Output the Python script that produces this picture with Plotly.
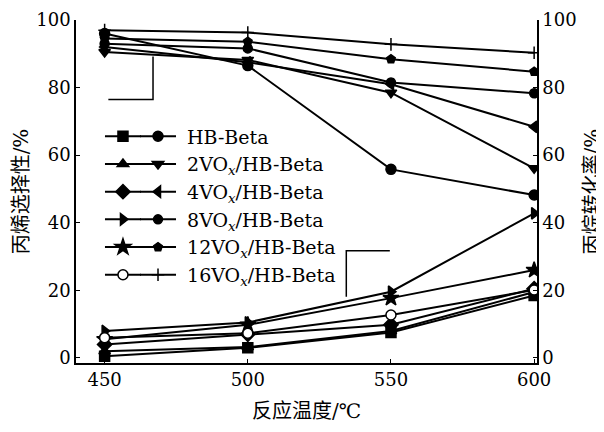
import plotly.graph_objects as go

temps = [450, 500, 550, 600]
names = ["HB-Beta", "2VO<sub><i>x</i></sub>/HB-Beta", "4VO<sub><i>x</i></sub>/HB-Beta",
         "8VO<sub><i>x</i></sub>/HB-Beta", "12VO<sub><i>x</i></sub>/HB-Beta", "16VO<sub><i>x</i></sub>/HB-Beta"]

# propane conversion (right axis)
conv_hb = [0.5, 3.0, 7.5, 18.5]
conv_2v = [2.0, 3.2, 8.0, 19.5]
conv_4v = [4.0, 7.0, 9.8, 20.5]
conv_8v = [8.0, 10.5, 19.6, 42.8]
conv_12v = [5.5, 9.8, 17.7, 26.0]
conv_16v = [6.0, 7.3, 12.7, 20.1]

# propylene selectivity (left axis)
sel_hb = [96.0, 86.5, 55.8, 48.2]
sel_2v = [90.5, 88.2, 78.5, 56.1]
sel_4v = [92.0, 87.5, 81.0, 68.4]
sel_8v = [93.0, 91.6, 81.5, 78.3]
sel_12v = [94.5, 93.6, 88.4, 84.7]
sel_16v = [97.0, 96.3, 92.8, 90.3]

conv = [conv_hb, conv_2v, conv_4v, conv_8v, conv_12v, conv_16v]
sel = [sel_hb, sel_2v, sel_4v, sel_8v, sel_12v, sel_16v]

conv_sym = ["square", "triangle-up", "diamond", "triangle-right", "star", "circle"]
conv_size = [10, 10, 11, 10, 12, 10]
sel_sym = ["circle", "triangle-down", "triangle-left", "circle", "pentagon", "cross-thin"]
sel_size = [10, 10, 10, 9, 9, 9]

fig = go.Figure()
for i in range(6):
    fill = "white" if conv_sym[i] == "circle" else "black"
    fig.add_trace(go.Scatter(
        x=temps, y=conv[i], yaxis="y2", mode="lines+markers", name="\u00a0",
        legend="legend",
        line=dict(color="black", width=2),
        marker=dict(symbol=conv_sym[i], size=conv_size[i], color=fill,
                    line=dict(color="black", width=1.5)),
    ))
for i in range(6):
    fig.add_trace(go.Scatter(
        x=temps, y=sel[i], yaxis="y", mode="lines+markers", name="\u00a0" + names[i],
        legend="legend2",
        line=dict(color="black", width=2),
        marker=dict(symbol=sel_sym[i], size=sel_size[i], color="black",
                    line=dict(color="black", width=1.5)),
    ))

font = "'DejaVu Serif', 'Noto Sans CJK SC'"
axis_common = dict(showgrid=False, zeroline=False, showline=True, linecolor="black",
                   linewidth=1.5, ticks="inside", ticklen=4, tickcolor="black",
                   automargin=False,
                   tickfont=dict(family="DejaVu Serif", size=18, color="black"))

fig.update_layout(
    width=596, height=424,
    margin=dict(l=68, r=67, t=12, b=69),
    paper_bgcolor="white", plot_bgcolor="white",
    font=dict(family=font, size=18, color="black"),
    xaxis=dict(range=[440, 601], tickvals=temps, **axis_common,
               title=dict(text="反应温度/℃", font=dict(family=font, size=20), standoff=15)),
    yaxis=dict(range=[-1.5, 100], tickvals=[0, 20, 40, 60, 80, 100], **axis_common,
               title=dict(text="丙烯选择性/%", font=dict(family=font, size=20), standoff=2)),
    yaxis2=dict(range=[-1.5, 100], tickvals=[0, 20, 40, 60, 80, 100], overlaying="y",
                side="right", **axis_common,
                title=dict(text="丙烷转化率/%", font=dict(family=font, size=20), standoff=10)),
    legend=dict(x=0.052, y=0.716, xanchor="left", yanchor="top", bgcolor="rgba(0,0,0,0)",
                font=dict(family=font, size=19), itemwidth=36, tracegroupgap=0,
                traceorder="normal"),
    legend2=dict(x=0.128, y=0.716, xanchor="left", yanchor="top", bgcolor="rgba(0,0,0,0)",
                 font=dict(family=font, size=19), itemwidth=36, tracegroupgap=0,
                 traceorder="normal"),
    showlegend=True,
    shapes=[
        dict(type="path", xref="x", yref="y", path="M 466.9 89.2 L 466.9 76.5 L 451.3 76.5",
             line=dict(color="black", width=1.5)),
        dict(type="path", xref="x", yref="y", path="M 534.4 18.1 L 534.4 31.7 L 549.6 31.7",
             line=dict(color="black", width=1.5)),
    ],
)

fig.write_html("out.html")
